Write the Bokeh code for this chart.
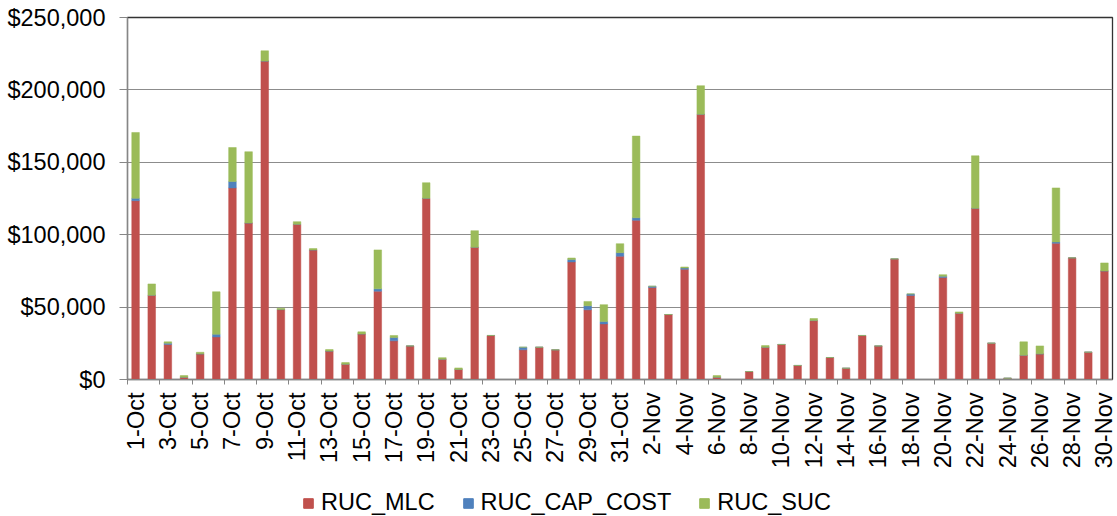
import math
from bokeh.plotting import figure
from bokeh.layouts import column
from bokeh.models import (ColumnDataSource, FixedTicker, NumeralTickFormatter,
                          Legend, LegendItem, Range1d)
from bokeh.embed import file_html
from bokeh.resources import INLINE

dates = [f"{d}-Oct" for d in range(1, 32)] + [f"{d}-Nov" for d in range(1, 31)]

ruc_mlc = [123500, 58200, 24200, 1600, 17700, 29400, 132300, 108100, 219900, 48300,
           107200, 89500, 19600, 10600, 31500, 61000, 26700, 23200, 125100, 14000,
           6900, 91300, 30400, 0, 20500, 22300, 20500, 81200, 48100, 38400,
           85100,
           109900, 63500, 44900, 76100, 183100, 1600, 0, 5500, 22300, 24200,
           9700, 40700, 15200, 7800, 30400, 23200, 83300, 58000, 0, 70400,
           45800, 118200, 25100, 900, 16800, 17700, 94100, 84000, 18900, 75000]

ruc_cap_cost = [1600, 0, 900, 0, 0, 1800, 4400, 0, 0, 0,
                0, 0, 0, 0, 0, 1600, 2300, 0, 0, 0,
                0, 0, 0, 0, 1800, 0, 0, 1600, 2800, 1600,
                2500,
                1800, 900, 0, 900, 0, 0, 0, 0, 0, 0,
                0, 0, 0, 0, 0, 0, 0, 1100, 0, 900,
                0, 0, 0, 0, 0, 0, 900, 0, 0, 0]

ruc_suc = [45500, 7800, 900, 1100, 1100, 29400, 23500, 49200, 7100, 900,
           1800, 900, 1100, 1100, 1400, 26900, 1400, 0, 10800, 1100,
           1100, 11500, 0, 0, 0, 0, 0, 1100, 3000, 11700,
           6200,
           56400, 0, 0, 700, 19800, 1100, 0, 0, 1100, 0,
           0, 1400, 0, 0, 0, 0, 0, 0, 0, 1100,
           900, 36300, 0, 0, 9200, 5500, 37300, 0, 0, 5500]

series = ["RUC_MLC", "RUC_CAP_COST", "RUC_SUC"]
colors = ["#C0504D", "#4F81BD", "#9BBB59"]
y_ticks = [0, 50000, 100000, 150000, 200000, 250000]

n = len(dates)
source = ColumnDataSource(dict(x=list(range(n)), RUC_MLC=ruc_mlc,
                               RUC_CAP_COST=ruc_cap_cost, RUC_SUC=ruc_suc))

FONT = "Liberation Sans"
FS = "23.5px"

p = figure(width=1117, height=486, output_backend="svg", toolbar_location=None,
           x_range=Range1d(-0.5, n - 0.5), y_range=Range1d(0, 250000),
           min_border_left=127, min_border_right=5, min_border_top=17,
           min_border_bottom=107)

rs = p.vbar_stack(series, x="x", width=0.47, color=colors, line_color=colors,
                  line_width=0.5, source=source)

# x axis: labels every other category, ticks at category boundaries
xa = p.xaxis[0]
xa.ticker = FixedTicker(ticks=list(range(0, n, 2)),
                        minor_ticks=[i + 1.5 for i in range(-2, n - 1, 2)])
xa.major_label_overrides = {i: dates[i] for i in range(0, n, 2)}
xa.major_label_orientation = math.pi / 2
xa.major_tick_out = 0
xa.major_tick_in = 0
xa.minor_tick_out = 5
xa.minor_tick_in = 0
xa.minor_tick_line_color = "#868686"
xa.axis_line_color = "#868686"
xa.axis_line_width = 1.2
xa.major_label_text_font = FONT
xa.major_label_text_font_size = FS
xa.major_label_text_color = "black"
xa.major_label_standoff = 8

ya = p.yaxis[0]
ya.ticker = FixedTicker(ticks=y_ticks)
ya.formatter = NumeralTickFormatter(format="$0,0")
ya.major_tick_out = 8
ya.major_tick_in = 0
ya.minor_tick_out = 0
ya.minor_tick_in = 0
ya.major_tick_line_color = "#868686"
ya.axis_line_color = "#868686"
ya.axis_line_width = 1.2
ya.major_label_text_font = FONT
ya.major_label_text_font_size = FS
ya.major_label_text_color = "black"
ya.major_label_standoff = 14

p.xgrid.visible = False
p.ygrid.grid_line_color = "#8C8C8C"
p.ygrid.grid_line_width = 1.2

p.outline_line_color = "#333333"
p.outline_line_width = 1.3
p.background_fill_color = "white"
p.border_fill_color = "white"

# legend strip below the chart: same three series, renderers hidden, only the key shows
lf = figure(width=1117, height=30, output_backend="svg", toolbar_location=None,
            x_range=Range1d(-0.5, n - 0.5), y_range=Range1d(0, 250000),
            x_axis_type=None, y_axis_type=None,
            min_border_left=127, min_border_right=5, min_border_top=0,
            min_border_bottom=0)
lf.grid.visible = False
lf.outline_line_color = None
lrs = lf.vbar_stack(series, x="x", width=0.47, color=colors, source=source)
for r in lrs:
    r.visible = False

legend = Legend(items=[LegendItem(label=s, renderers=[r]) for s, r in zip(series, lrs)],
                orientation="horizontal", location=(175, 0),
                label_text_font=FONT, label_text_font_size=FS,
                label_text_color="black", glyph_width=12, glyph_height=12,
                label_standoff=7, spacing=27, padding=0, margin=0,
                border_line_color=None, background_fill_alpha=0,
                inactive_fill_alpha=0)
lf.add_layout(legend, "center")

layout = column(p, lf, spacing=0)
open("out.html", "w").write(file_html(layout, INLINE))
